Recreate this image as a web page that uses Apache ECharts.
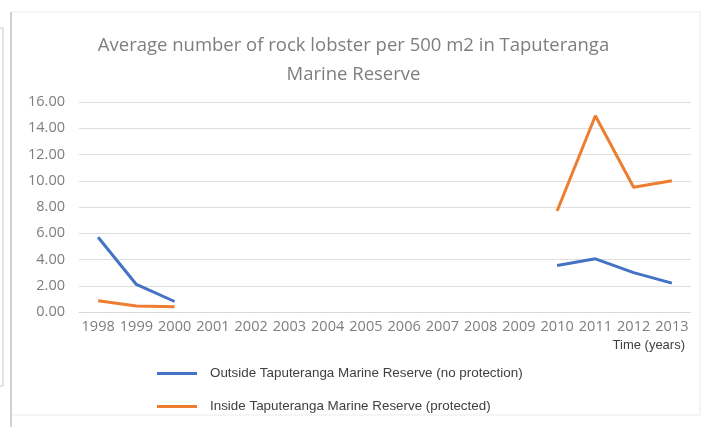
<!DOCTYPE html>
<html>
<head>
<meta charset="utf-8">
<style>
  html, body { margin: 0; padding: 0; background: #ffffff; }
  #chart { width: 707px; height: 427px; }
</style>
<script src="https://cdn.jsdelivr.net/npm/echarts@6/dist/echarts.min.js"></script>
</head>
<body>
<div id="chart"></div>
<script>
// Survey years on the category axis
const years = ['1998', '1999', '2000', '2001', '2002', '2003', '2004', '2005',
               '2006', '2007', '2008', '2009', '2010', '2011', '2012', '2013'];

// Average rock lobster count per 500 m2 (null = no survey that year)
const outsideReserve = [5.7, 2.1, 0.8, null, null, null, null, null,
                        null, null, null, null, 3.55, 4.05, 3.0, 2.2];
const insideReserve  = [0.85, 0.45, 0.4, null, null, null, null, null,
                        null, null, null, null, 7.7, 14.95, 9.5, 10.0];

// Value axis tick settings
const yMin = 0;
const yMax = 16;
const yStep = 2;

const seriesNames = [
  'Outside Taputeranga Marine Reserve (no protection)',
  'Inside Taputeranga Marine Reserve (protected)'
];

const chart = echarts.init(document.getElementById('chart'), null, { renderer: 'canvas' });

chart.setOption({
  backgroundColor: '#ffffff',
  animation: false,
  title: {
    text: 'Average number of rock lobster per 500 m2 in Taputeranga\nMarine Reserve',
    left: 'center',
    top: 26,
    textStyle: {
      fontFamily: '"Open Sans", "Noto Sans", sans-serif',
      fontSize: 18.5,
      fontWeight: 'normal',
      color: '#7e7e7e',
      lineHeight: 29
    }
  },
  grid: { left: 79, right: 16, top: 102, bottom: 115 },
  legend: {
    orient: 'vertical',
    left: 152,
    top: 362,
    itemWidth: 40,
    itemHeight: 3,
    itemGap: 20,
    icon: 'rect',
    data: seriesNames,
    textStyle: {
      fontFamily: '"Liberation Sans", Arial, sans-serif',
      fontSize: 13.4,
      color: '#404040',
      padding: [0, 0, 0, 8]
    }
  },
  xAxis: {
    type: 'category',
    data: years,
    boundaryGap: true,
    axisLine: { lineStyle: { color: '#d9d9d9', width: 1, type: 'dashed' } },
    axisTick: { show: false },
    axisLabel: {
      interval: 0,
      margin: 7,
      fontFamily: '"Open Sans", "Noto Sans", sans-serif',
      fontSize: 14.5,
      color: '#7e7e7e'
    }
  },
  yAxis: {
    type: 'value',
    min: yMin,
    max: yMax,
    interval: yStep,
    axisLine: { show: false },
    axisTick: { show: false },
    splitLine: { lineStyle: { color: '#dedede', width: 1 } },
    axisLabel: {
      margin: 14,
      formatter: v => v.toFixed(2),
      fontFamily: '"Open Sans", "Noto Sans", sans-serif',
      fontSize: 14.5,
      color: '#7e7e7e'
    }
  },
  series: [
    {
      name: seriesNames[0],
      type: 'line',
      data: outsideReserve,
      showSymbol: false,
      symbol: 'none',
      connectNulls: false,
      lineStyle: { color: '#4472c4', width: 3 },
      itemStyle: { color: '#4472c4' }
    },
    {
      name: seriesNames[1],
      type: 'line',
      data: insideReserve,
      showSymbol: false,
      symbol: 'none',
      connectNulls: false,
      lineStyle: { color: '#ed7d31', width: 3 },
      itemStyle: { color: '#ed7d31' }
    }
  ],
  graphic: [
    // chart-area frame
    {
      type: 'rect',
      shape: { x: 11, y: 12, width: 689, height: 403 },
      style: { fill: 'none', stroke: '#ebebeb', lineWidth: 1 },
      silent: true
    },
    {
      type: 'line',
      shape: { x1: 11, y1: 12, x2: 11, y2: 427 },
      style: { stroke: '#cfcfcf', lineWidth: 2 },
      silent: true
    },
    // neighbouring panel edge on the far left
    {
      type: 'polyline',
      shape: { points: [[0, 28], [3, 28], [3, 386], [0, 386]] },
      style: { fill: 'none', stroke: '#c8c8c8', lineWidth: 1 },
      silent: true
    },
    // x-axis caption
    {
      type: 'text',
      right: 22,
      top: 339,
      style: {
        text: 'Time (years)',
        font: '13px "Liberation Sans", Arial, sans-serif',
        fill: '#404040'
      },
      silent: true
    }
  ]
});
</script>
</body>
</html>
